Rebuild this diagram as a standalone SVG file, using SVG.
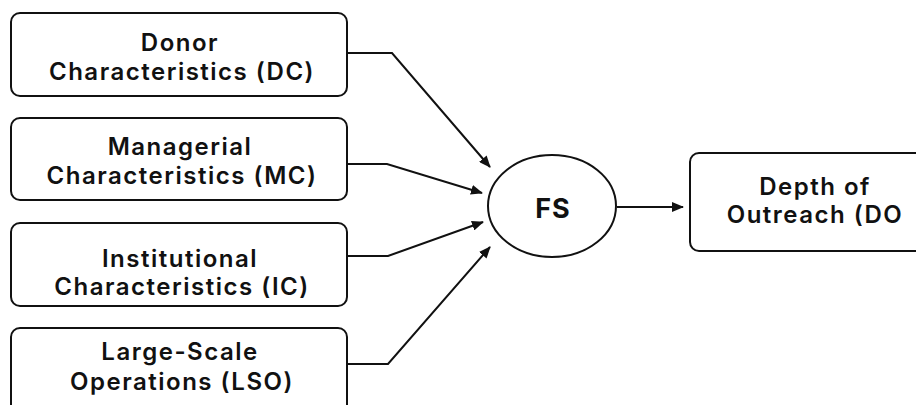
<svg xmlns="http://www.w3.org/2000/svg" width="916" height="405" viewBox="0 0 916 405">
<style>
.box{fill:#fff;stroke:#111;stroke-width:2}
.t{font-family:Inter,"Noto Sans","Liberation Sans",sans-serif;font-size:24px;font-weight:600;letter-spacing:1.5px;fill:#111;text-anchor:middle}
.fs{font-family:Inter,"Noto Sans","Liberation Sans",sans-serif;font-size:27px;font-weight:700;letter-spacing:1px;fill:#111;text-anchor:middle}
.c{fill:none;stroke:#111;stroke-width:2;marker-end:url(#ah)}
</style>
<defs>
<marker id="ah" viewBox="0 0 12 10" refX="11" refY="5" markerWidth="12" markerHeight="10" markerUnits="userSpaceOnUse" orient="auto">
<path d="M0,0 L12,5 L0,10 Z" fill="#111"/>
</marker>
</defs>
<rect width="916" height="405" fill="#fff"/>
<g id="dc"><rect class="box" x="11" y="13" width="336" height="83" rx="9"/>
<text class="t" x="180" y="51">Donor</text><text class="t" x="182" y="80">Characteristics (DC)</text></g>
<g id="mc"><rect class="box" x="11" y="118" width="336" height="82" rx="9"/>
<text class="t" x="180" y="155">Managerial</text><text class="t" x="182" y="184">Characteristics (MC)</text></g>
<g id="ic"><rect class="box" x="11" y="223" width="336" height="83" rx="9"/>
<text class="t" x="180" y="267">Institutional</text><text class="t" x="182" y="295">Characteristics (IC)</text></g>
<g id="lso"><rect class="box" x="11" y="328" width="336" height="90" rx="9"/>
<text class="t" x="180" y="360">Large-Scale</text><text class="t" x="182" y="390">Operations (LSO)</text></g>
<g id="fs"><ellipse class="box" cx="552" cy="206" rx="64" ry="51"/>
<text class="fs" x="553" y="218">FS</text></g>
<g id="do"><rect class="box" x="690" y="153" width="240" height="98" rx="9"/>
<text class="t" x="815" y="195">Depth of</text><text class="t" x="815" y="223">Outreach (DO</text></g>
<g id="connectors">
<polyline class="c" points="347,53 392,53 490,167"/>
<polyline class="c" points="347,164 387,164 482,193"/>
<polyline class="c" points="347,256 388,256 483,222"/>
<polyline class="c" points="347,364 388,364 490,247"/>
<line class="c" x1="617" y1="207" x2="683" y2="207"/>
</g>
</svg>
